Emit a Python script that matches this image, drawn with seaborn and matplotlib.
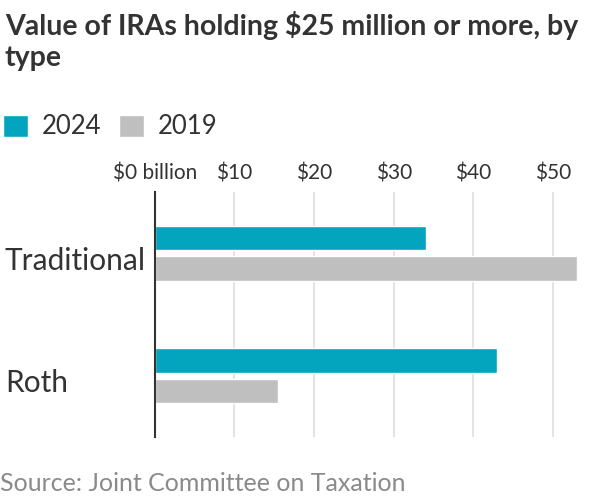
import matplotlib
matplotlib.use("Agg")
import matplotlib.pyplot as plt
import seaborn as sns
import pandas as pd

# values in $ billion
types = ["Traditional", "Roth"]
years = ["2024", "2019"]
val_2024 = [34.0, 43.0]
val_2019 = [53.0, 15.5]
ticks = [0, 10, 20, 30, 40, 50]
tick_labels = ["$0 billion", "$10", "$20", "$30", "$40", "$50"]

df = pd.DataFrame({
    "type": types * 2,
    "year": [years[0]] * 2 + [years[1]] * 2,
    "value": val_2024 + val_2019,
})

sns.set_style("white")
plt.rcParams["font.family"] = ["Lato", "DejaVu Sans"]
text_col = "#333333"

fig = plt.figure(figsize=(6, 5), dpi=100)
ax = fig.add_axes([0.258, 0.126, 0.717, 0.49])

sns.barplot(data=df, x="value", y="type", hue="year", hue_order=years,
            palette=["#02a4be", "#bfbfbf"], saturation=1, width=0.5, gap=0.2,
            orient="h", ax=ax)

ax.set_xlim(0, 54)
ax.set_ylim(1.5, -0.5)
ax.set_xticks(ticks)
ax.set_xticklabels(tick_labels, fontsize=15, color=text_col)
ax.xaxis.tick_top()
ax.tick_params(axis="x", length=0, pad=6)
ax.xaxis.grid(True, color="#e3e3e3", linewidth=1.4)
ax.set_axisbelow(True)
ax.set_xlabel("")
ax.set_ylabel("")

# category names sit flush with the left edge of the figure
ax.tick_params(axis="y", length=0, pad=108)
ax.set_yticks([0.04, 1.04])
ax.set_yticklabels(types)
for lab in ax.get_yticklabels():
    lab.set_ha("left")
    lab.set_fontsize(21.5)
    lab.set_color(text_col)

for s in ["top", "right", "bottom"]:
    ax.spines[s].set_visible(False)
ax.spines["left"].set_color("#333333")
ax.spines["left"].set_linewidth(1.5)

handles, labels = ax.get_legend_handles_labels()
ax.legend_.remove()
fig.legend(handles, labels, loc="center left", bbox_to_anchor=(-0.033, 0.746),
           ncol=2, frameon=False, fontsize=18.5, handlelength=0.95,
           handleheight=0.95, handletextpad=0.55, columnspacing=0.7,
           labelcolor=text_col)

fig.text(0.008, 0.978, "Value of IRAs holding $25 million or more, by\ntype",
         fontsize=20.5, fontweight="bold", color=text_col, va="top",
         linespacing=1.25)
fig.text(0.0, 0.01, "Source: Joint Committee on Taxation", fontsize=18,
         color="#8a8a8a", va="bottom")

fig.savefig("out.png", dpi=100)
